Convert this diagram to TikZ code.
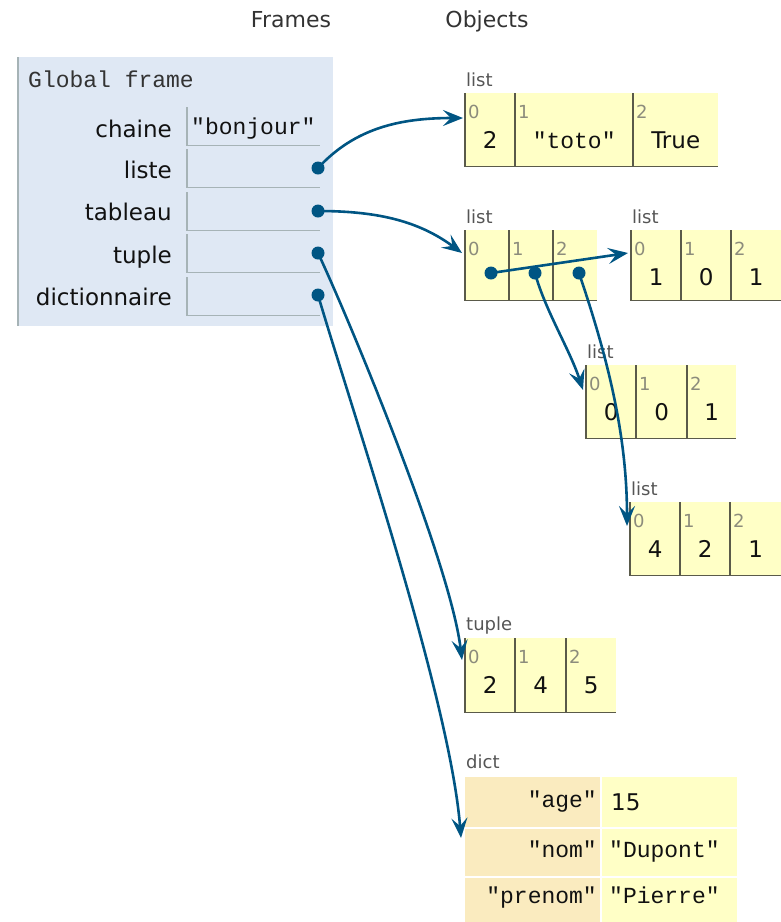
\documentclass[tikz,border=0pt]{standalone}
\usepackage{fontspec}
\setmainfont{DejaVu Sans}
\setmonofont{Liberation Mono}
\usetikzlibrary{arrows.meta}
\definecolor{framebg}{HTML}{DFE8F4}
\definecolor{frameline}{HTML}{A6B3B6}
\definecolor{listbg}{HTML}{FFFFC6}
\definecolor{listline}{HTML}{5A5A4A}
\definecolor{dictkey}{HTML}{FAEBBF}
\definecolor{ptrcol}{HTML}{005583}
\definecolor{idxcol}{HTML}{8C8C7C}
\definecolor{lblcol}{HTML}{555555}
\definecolor{hdrcol}{HTML}{333333}
\definecolor{txtcol}{HTML}{111111}
\newcommand\lcell[7]{%
  \node[cellbox, minimum width=#4pt, minimum height=#5pt] (#1) at (#2,#3) {};
  \draw[lline] (#1.north west) -- (#1.south west) -- (#1.south east);
  \node[idx] (#1i) at ([xshift=3pt,yshift=-25pt]#1.north west) {#6};
  \node[val] (#1v) at ([yshift=-55pt]#1.north) {#7};
}
\newcommand\fcell[3]{%
  \node[inner sep=0, anchor=north west, minimum width=133pt, minimum height=#3pt] (#1) at (187,#2) {};
  \draw[fline] (#1.north west) -- (#1.south west) -- (#1.south east);
}
\begin{document}
\begin{tikzpicture}[x=1pt,y=-1pt,
  hdr/.style={font=\fontsize{22}{26}\selectfont, text=hdrcol, inner sep=0, anchor=base},
  vname/.style={font=\fontsize{23}{27}\selectfont, text=txtcol, anchor=base east, inner sep=0},
  mono/.style={font=\ttfamily\fontsize{23}{27}\selectfont, text=txtcol, inner sep=0},
  tlabel/.style={font=\fontsize{18}{21}\selectfont, text=lblcol, anchor=base west, inner sep=0},
  idx/.style={font=\fontsize{18}{21}\selectfont, text=idxcol, anchor=base west, inner sep=0},
  val/.style={font=\fontsize{23}{27}\selectfont, text=txtcol, anchor=base, inner sep=0},
  cellbox/.style={fill=listbg, inner sep=0, anchor=north west, draw=none},
  dictbox/.style={inner sep=0, anchor=north west, draw=none, minimum width=135pt},
  lline/.style={draw=listline, line width=1.4pt},
  fline/.style={draw=frameline, line width=1.4pt},
  ptr/.style={draw=ptrcol, line width=2.6pt, -{Stealth[length=20pt,width=16pt,inset=8pt]}},
  dot/.style={circle, fill=ptrcol, inner sep=0, minimum size=13pt},
]
\path[use as bounding box] (0,0) rectangle (781,922);
% headers
\node[hdr] (hf) at (291,27) {Frames};
\node[hdr] (ho) at (487,27) {Objects};
% global frame
\node[fill=framebg, inner sep=0, anchor=north west, minimum width=315pt, minimum height=269pt] (gf) at (18,57) {};
\draw[fline] (gf.north west) -- (gf.south west);
\node[mono, anchor=base west, text=hdrcol] (gft) at (28,87) {Global frame};
\node[vname] (n1) at (172,137) {chaine};
\node[vname] (n2) at (172,178) {liste};
\node[vname] (n3) at (172,220) {tableau};
\node[vname] (n4) at (172,263) {tuple};
\node[vname] (n5) at (172,305) {dictionnaire};
\fcell{f1}{107}{38}
\fcell{f2}{149}{38}
\fcell{f3}{192}{38}
\fcell{f4}{234}{38}
\fcell{f5}{277}{38}
\node[mono, anchor=base west] (f1t) at (191,134) {"bonjour"};
\node[dot] (d2) at (318,168) {};
\node[dot] (d3) at (318,211) {};
\node[dot] (d4) at (318,253) {};
\node[dot] (d5) at (318,295) {};
% list A
\node[tlabel] (lA) at (466,86) {list};
\lcell{A0}{465}{93}{50}{73}{0}{2}
\lcell{A1}{515}{93}{118}{73}{1}{\ttfamily "toto"}
\lcell{A2}{633}{93}{85}{73}{2}{True}
% list B
\node[tlabel] (lB) at (466,223) {list};
\lcell{B0}{465}{230}{44}{70}{0}{}
\lcell{B1}{509}{230}{44}{70}{1}{}
\lcell{B2}{553}{230}{44}{70}{2}{}
\node[dot] (b0) at (491,273) {};
\node[dot] (b1) at (535,273) {};
\node[dot] (b2) at (579,273) {};
% list C
\node[tlabel] (lC) at (632,223) {list};
\lcell{C0}{631}{230}{50}{70}{0}{1}
\lcell{C1}{681}{230}{50}{70}{1}{0}
\lcell{C2}{731}{230}{50}{70}{2}{1}
% list D
\node[tlabel] (lD) at (587,358) {list};
\lcell{D0}{586}{365}{50}{73}{0}{0}
\lcell{D1}{636}{365}{51}{73}{1}{0}
\lcell{D2}{687}{365}{49}{73}{2}{1}
% list E
\node[tlabel] (lE) at (631,495) {list};
\lcell{E0}{630}{502}{50}{73}{0}{4}
\lcell{E1}{680}{502}{50}{73}{1}{2}
\lcell{E2}{730}{502}{51}{73}{2}{1}
% tuple
\node[tlabel] (lT) at (466,630) {tuple};
\lcell{T0}{465}{638}{50}{74}{0}{2}
\lcell{T1}{515}{638}{51}{74}{1}{4}
\lcell{T2}{566}{638}{50}{74}{2}{5}
% dict
\node[tlabel] (lK) at (466,768) {dict};
\node[dictbox, fill=dictkey, minimum height=50pt] (k1) at (465,777) {};
\node[dictbox, fill=dictkey, minimum height=47pt] (k2) at (465,829) {};
\node[dictbox, fill=dictkey, minimum height=44pt] (k3) at (465,878) {};
\node[dictbox, fill=listbg, minimum height=50pt] (w1) at (602,777) {};
\node[dictbox, fill=listbg, minimum height=47pt] (w2) at (602,829) {};
\node[dictbox, fill=listbg, minimum height=44pt] (w3) at (602,878) {};
\node[mono, anchor=base east] (k1t) at (597,807) {"age"};
\node[mono, anchor=base east] (k2t) at (597,857) {"nom"};
\node[mono, anchor=base east] (k3t) at (597,903) {"prenom"};
\node[val, anchor=base west] (w1t) at (611,810) {15};
\node[mono, anchor=base west] (w2t) at (609,857) {"Dupont"};
\node[mono, anchor=base west] (w3t) at (609,903) {"Pierre"};
% arrow targets
\coordinate (tA) at (463,118);
\coordinate (tB) at (462,253);
\coordinate (tC) at (628,253);
\coordinate (tD) at (583,390);
\coordinate (tE) at (627,526);
\coordinate (tT) at (462,660);
\coordinate (tK) at (461,838);
% pointers
\draw[ptr] (d2.center) .. controls (355,128) and (400,118) .. (tA);
\draw[ptr] (d3.center) .. controls (380,211) and (420,222) .. (tB);
\draw[ptr] (d4.center) .. controls (345,310) and (450,560) .. (tT);
\draw[ptr] (d5.center) .. controls (355,420) and (450,700) .. (tK);
\draw[ptr] (b0.center) -- (tC);
\draw[ptr] (b1.center) .. controls (545,310) and (570,350) .. (tD);
\draw[ptr] (b2.center) .. controls (605,350) and (627,430) .. (tE);
\end{tikzpicture}
\end{document}
